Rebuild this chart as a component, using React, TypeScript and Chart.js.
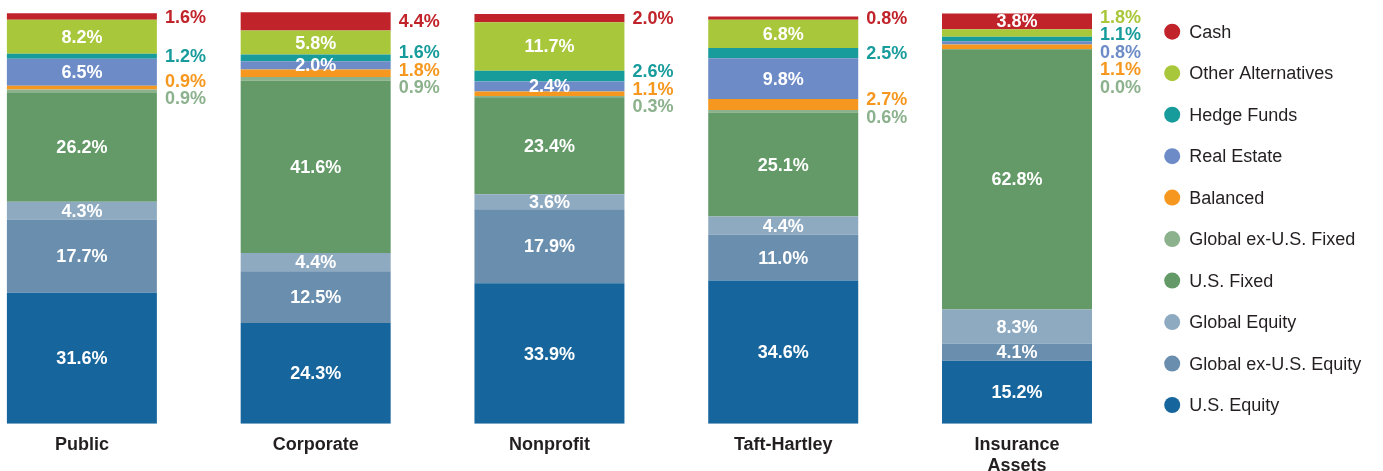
import React, { useEffect, useRef } from "react";
import { Chart, registerables } from "chart.js";

Chart.register(...registerables);

// ---- Data ----
const categories: (string | string[])[] = ["Public", "Corporate", "Nonprofit", "Taft-Hartley", ["Insurance", "Assets"]];

const usEquity = [31.6, 24.3, 33.9, 34.6, 15.2];
const globalExUSEquity = [17.7, 12.5, 17.9, 11.0, 4.1];
const globalEquity = [4.3, 4.4, 3.6, 4.4, 8.3];
const usFixed = [26.2, 41.6, 23.4, 25.1, 62.8];
const globalExUSFixed = [0.9, 0.9, 0.3, 0.6, 0.0];
const balanced = [0.9, 1.8, 1.1, 2.7, 1.1];
const realEstate = [6.5, 2.0, 2.4, 9.8, 0.8];
const hedgeFunds = [1.2, 1.6, 2.6, 2.5, 1.1];
const otherAlternatives = [8.2, 5.8, 11.7, 6.8, 1.8];
const cash = [1.6, 4.4, 2.0, 0.8, 3.8];

const seriesNames = [
  "U.S. Equity",
  "Global ex-U.S. Equity",
  "Global Equity",
  "U.S. Fixed",
  "Global ex-U.S. Fixed",
  "Balanced",
  "Real Estate",
  "Hedge Funds",
  "Other Alternatives",
  "Cash",
];
const seriesValues = [
  usEquity,
  globalExUSEquity,
  globalEquity,
  usFixed,
  globalExUSFixed,
  balanced,
  realEstate,
  hedgeFunds,
  otherAlternatives,
  cash,
];
const seriesColors = [
  "#16659c",
  "#6a8eae",
  "#8eaac1",
  "#649a67",
  "#8cb18d",
  "#f6981f",
  "#6d8cc7",
  "#189c9b",
  "#a9c73a",
  "#c1232a",
];

// label placement rules (style)
const outsideSeries = ["Cash", "Hedge Funds", "Balanced", "Global ex-U.S. Fixed"];
const insideOverrides = ["4|Cash"];
const insideMin = 2.0;

const FONT = "'Liberation Sans', Arial, Helvetica, sans-serif";
const TEXT_COLOR = "#231f20";

const labelPlugin = {
  id: "segLabels",
  afterDatasetsDraw(chart: any) {
    const ctx = chart.ctx;
    const nCat = categories.length;
    const outside: { y: number; text: string; color: string }[][] = [];
    for (let c = 0; c < nCat; c++) outside.push([]);
    const barRight: number[] = [];
    ctx.save();
    ctx.font = `bold 18px ${FONT}`;
    ctx.textBaseline = "middle";
    chart.data.datasets.forEach((ds: any, di: number) => {
      const meta = chart.getDatasetMeta(di);
      meta.data.forEach((el: any, ci: number) => {
        const v = ds.data[ci];
        const p = el.getProps(["x", "y", "base", "width"], true);
        const cy = (p.y + p.base) / 2;
        barRight[ci] = p.x + p.width / 2;
        const name = ds.label;
        const text = v.toFixed(1) + "%";
        const inside =
          insideOverrides.includes(ci + "|" + name) ||
          (!outsideSeries.includes(name) && v >= insideMin);
        if (inside) {
          ctx.fillStyle = "#ffffff";
          ctx.textAlign = "center";
          ctx.fillText(text, p.x, cy + 1);
        } else {
          outside[ci].push({ y: cy, text, color: ds.backgroundColor });
        }
      });
    });
    // resolve overlaps for outside labels
    const gap = 17.5;
    const minY = 17;
    outside.forEach((labels, ci) => {
      labels.sort((a, b) => a.y - b.y);
      let clusters = labels.map((l) => ({ items: [l], center: l.y }));
      const top = (cl: any) => cl.center - ((cl.items.length - 1) * gap) / 2;
      const bottom = (cl: any) => cl.center + ((cl.items.length - 1) * gap) / 2;
      let changed = true;
      let guard = 0;
      while (changed && guard < 100) {
        guard++;
        changed = false;
        for (let i = 1; i < clusters.length; i++) {
          const a = clusters[i - 1];
          const b = clusters[i];
          if (top(b) - bottom(a) < gap - 0.01) {
            const items = a.items.concat(b.items);
            const mean = items.reduce((s, it) => s + it.y, 0) / items.length;
            clusters.splice(i - 1, 2, { items, center: mean });
            changed = true;
            break;
          }
        }
      }
      let prevBottom = -Infinity;
      clusters.forEach((cl, k) => {
        let t = top(cl);
        if (k === 0 && t < minY) t = minY;
        if (t < prevBottom + gap) t = prevBottom + gap;
        cl.items.forEach((it, j) => {
          ctx.fillStyle = it.color;
          ctx.textAlign = "left";
          ctx.fillText(it.text, barRight[ci] + 8, t + j * gap + 1);
        });
        prevBottom = t + (cl.items.length - 1) * gap;
      });
    });
    ctx.restore();
  },
};

const legendPlugin = {
  id: "sideLegend",
  afterDraw(chart: any) {
    const ctx = chart.ctx;
    const x0 = chart.chartArea.right + 38.3;
    const y0 = 31.7;
    const step = 41.48;
    ctx.save();
    ctx.font = `18px ${FONT}`;
    ctx.textBaseline = "middle";
    ctx.textAlign = "left";
    const ds = chart.data.datasets.slice().reverse();
    ds.forEach((d: any, i: number) => {
      const y = y0 + i * step;
      ctx.beginPath();
      ctx.arc(x0, y, 8, 0, Math.PI * 2);
      ctx.fillStyle = d.backgroundColor;
      ctx.fill();
      ctx.fillStyle = TEXT_COLOR;
      ctx.fillText(d.label, x0 + 17, y + 1);
    });
    ctx.restore();
  },
};

export default function App() {
  const ref = useRef<HTMLCanvasElement | null>(null);
  useEffect(() => {
    if (!ref.current) return;
    const chart = new Chart(ref.current, {
      type: "bar",
      data: {
        labels: categories as any,
        datasets: seriesNames.map((name, i) => ({
          label: name,
          data: seriesValues[i],
          backgroundColor: seriesColors[i],
          borderWidth: 0,
          barPercentage: 0.6416,
          categoryPercentage: 1,
        })),
      },
      options: {
        animation: false,
        responsive: true,
        maintainAspectRatio: false,
        layout: { padding: { left: 0, right: 249.1, top: 9.4, bottom: 0 } },
        plugins: {
          legend: { display: false },
          tooltip: { enabled: false },
        },
        scales: {
          x: {
            stacked: true,
            grid: { display: false },
            border: { display: false },
            ticks: {
              color: TEXT_COLOR,
              font: { family: FONT, size: 18, weight: "bold", lineHeight: 1.2 },
              padding: 2,
              maxRotation: 0,
              autoSkip: false,
            },
          },
          y: {
            stacked: true,
            display: false,
            min: 0,
            max: 100,
          },
        },
      },
      plugins: [labelPlugin, legendPlugin],
    });
    return () => chart.destroy();
  }, []);

  return (
    <div style={{ position: "fixed", left: 0, top: 0, width: 1383, height: 471, overflow: "hidden", background: "#fff" }}>
      <div style={{ position: "absolute", left: -35, top: 0, width: 1418, height: 479 }}>
        <canvas ref={ref} />
      </div>
    </div>
  );
}
